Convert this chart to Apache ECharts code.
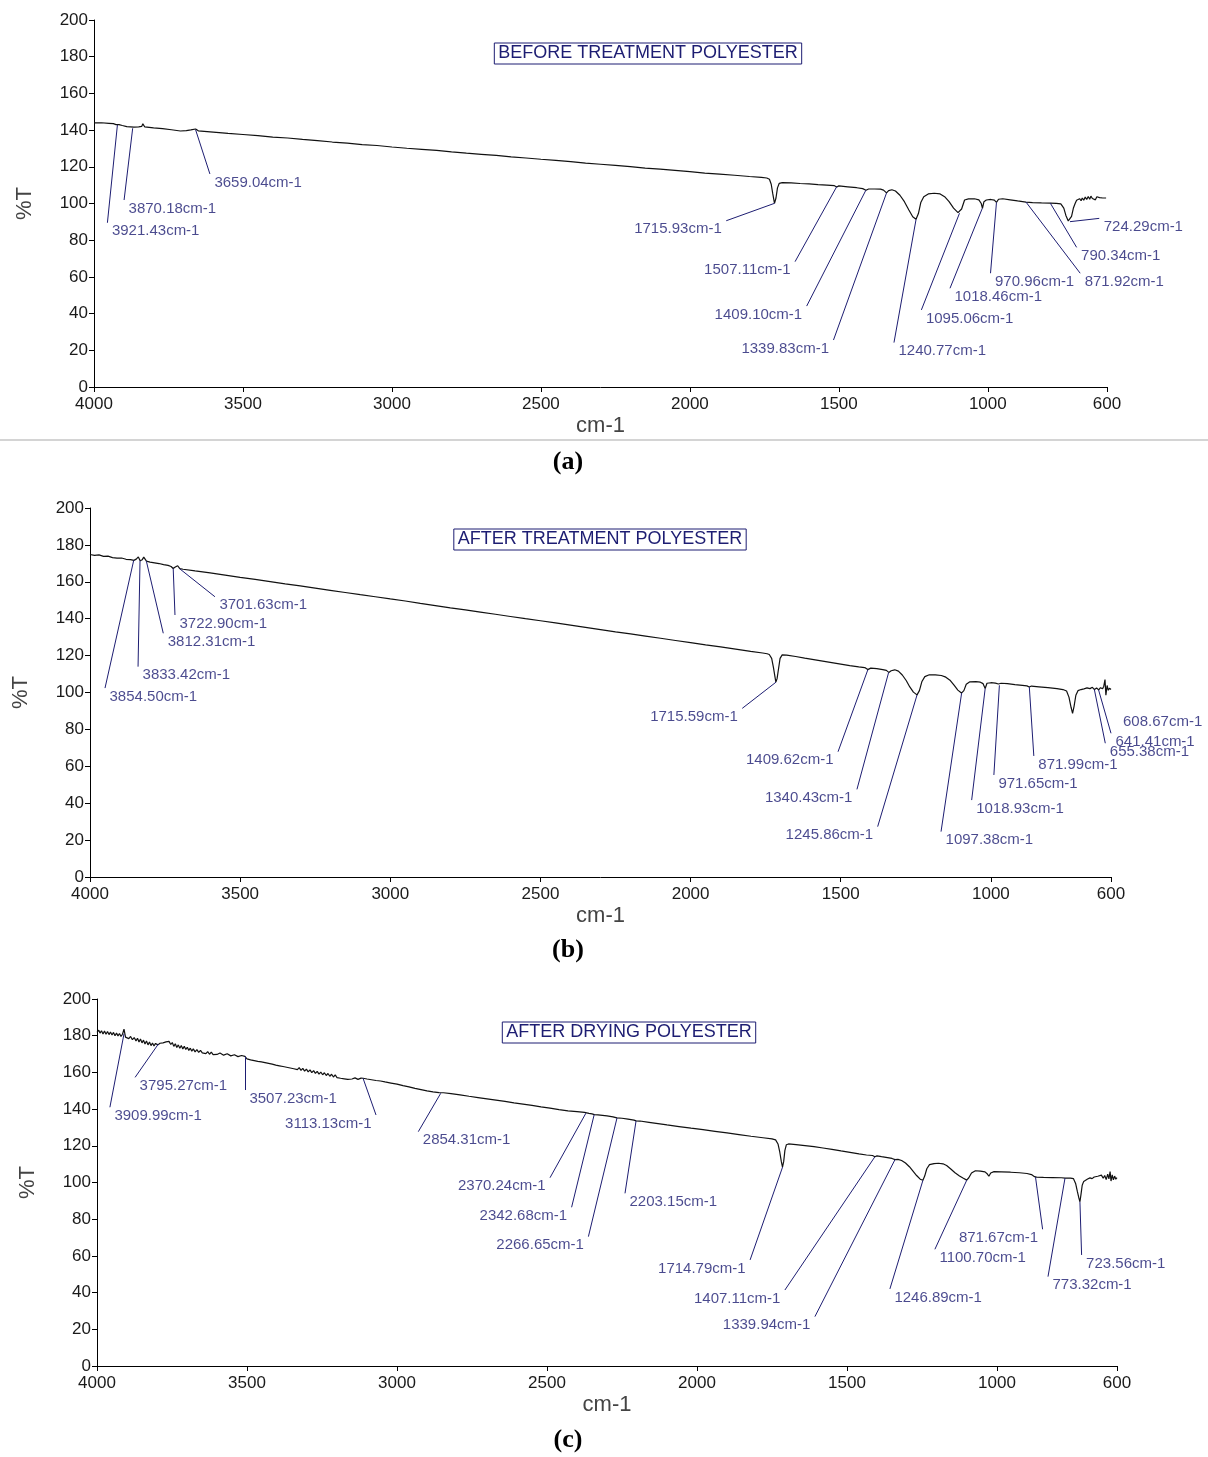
<!DOCTYPE html>
<html>
<head>
<meta charset="utf-8">
<script src="https://cdn.jsdelivr.net/npm/echarts@6/dist/echarts.min.js"></script>
<style>html,body{margin:0;padding:0;background:#fff}#c{width:1208px;height:1457px}</style>
</head>
<body>
<div id="c"></div>
<script>
// ---------- data ----------
const xTicks = [4000, 3500, 3000, 2500, 2000, 1500, 1000, 600];
const panelTitles = ['BEFORE TREATMENT POLYESTER', 'AFTER TREATMENT POLYESTER', 'AFTER DRYING POLYESTER'];
const captions = ['(a)', '(b)', '(c)'];

// spectra: [wavenumber cm-1, %T]
const spectrumA = [[4000,143.9],[3975,144.0],[3950,143.7],[3935,143.5],[3926,143.0],[3921,142.0],[3916,143.0],[3905,142.5],[3890,141.9],[3878,141.8],[3872,140.8],[3866,141.6],[3850,141.8],[3840,142.0],[3836,143.4],[3830,141.8],[3800,141.2],[3770,140.8],[3740,140.2],[3710,139.5],[3690,139.7],[3675,140.1],[3659,140.6],[3650,139.6],[3600,138.9],[3550,138.2],[3500,137.6],[3450,137.0],[3400,136.2],[3350,135.7],[3300,134.9],[3250,134.3],[3200,133.5],[3150,132.9],[3100,132.1],[3050,131.6],[3000,130.8],[2950,130.1],[2900,129.5],[2850,128.9],[2800,128.1],[2750,127.4],[2700,126.8],[2650,126.2],[2600,125.4],[2550,124.8],[2500,124.1],[2450,123.5],[2400,122.8],[2350,122.0],[2300,121.4],[2250,120.8],[2200,120.1],[2150,119.3],[2100,118.7],[2050,118.1],[2000,117.4],[1950,116.6],[1900,116.0],[1850,115.4],[1800,114.7],[1760,114.2],[1742,113.9],[1733,113.2],[1727,110.5],[1722,105.5],[1716,100.1],[1711,103.0],[1706,108.5],[1700,111.0],[1690,111.4],[1660,111.2],[1630,110.9],[1600,110.7],[1570,110.3],[1540,110.0],[1515,109.7],[1507,109.0],[1500,109.6],[1470,109.1],[1440,108.6],[1420,108.1],[1409,107.2],[1400,107.9],[1380,107.9],[1360,107.8],[1350,107.3],[1340,105.8],[1333,107.0],[1322,107.5],[1310,106.8],[1295,104.5],[1280,101.0],[1265,96.5],[1252,92.8],[1241,91.4],[1233,94.5],[1225,100.5],[1215,103.7],[1200,105.2],[1180,105.6],[1160,105.2],[1145,103.7],[1130,101.0],[1115,97.5],[1100,95.0],[1095,94.7],[1088,97.0],[1078,101.9],[1065,102.5],[1045,102.6],[1030,102.0],[1022,100.0],[1018,97.4],[1013,101.0],[1005,101.9],[990,102.2],[978,101.8],[971,100.6],[964,102.3],[950,102.6],[925,102.0],[900,101.4],[872,100.8],[850,100.5],[820,100.3],[790,100.2],[770,100.1],[755,99.8],[745,97.5],[738,93.5],[730,90.5],[724,90.1],[719,93.0],[713,97.4],[707,100.0],[702,101.8],[697,100.8],[692,102.6],[687,101.5],[683,103.0],[678,101.8],[673,103.5],[668,102.2],[663,103.8],[658,102.3],[654,104.0],[649,102.7],[644,103.2],[639,102.0],[634,103.7],[630,102.8],[625,103.2],[620,102.5],[614,103.0],[608,102.6],[603,103.0]];

const spectrumB = [[4000,174.8],[3985,174.3],[3970,174.6],[3955,173.8],[3940,173.9],[3925,173.1],[3910,172.8],[3895,172.9],[3880,172.2],[3865,172.0],[3854,171.6],[3846,172.3],[3839,173.5],[3833,171.4],[3826,172.0],[3821,173.4],[3812,171.2],[3800,170.7],[3785,170.3],[3770,169.9],[3755,169.3],[3740,168.9],[3730,168.3],[3723,167.2],[3716,168.0],[3708,168.7],[3701,167.1],[3690,166.8],[3650,165.9],[3600,164.8],[3550,163.6],[3500,162.4],[3450,161.3],[3400,160.1],[3350,158.9],[3300,157.8],[3250,156.6],[3200,155.4],[3150,154.2],[3100,153.0],[3050,151.9],[3000,150.7],[2950,149.6],[2900,148.3],[2850,147.1],[2800,145.9],[2750,144.8],[2700,143.6],[2650,142.4],[2600,141.2],[2550,140.0],[2500,138.9],[2450,137.7],[2400,136.5],[2350,135.3],[2300,134.1],[2250,132.9],[2200,131.8],[2150,130.6],[2100,129.4],[2050,128.2],[2000,127.0],[1950,125.8],[1900,124.7],[1850,123.5],[1800,122.3],[1760,121.4],[1745,121.0],[1738,120.6],[1730,118.5],[1724,113.5],[1719,108.5],[1716,105.6],[1712,107.5],[1707,113.0],[1702,118.5],[1695,120.4],[1680,120.3],[1650,119.5],[1620,118.6],[1590,117.8],[1560,117.0],[1530,116.2],[1500,115.4],[1470,114.6],[1440,113.9],[1420,113.5],[1410,112.4],[1400,113.2],[1380,112.9],[1360,112.4],[1348,112.0],[1340,110.9],[1332,111.8],[1320,112.3],[1308,111.6],[1295,109.5],[1282,106.5],[1270,103.0],[1258,100.2],[1246,98.7],[1238,101.0],[1230,105.8],[1220,108.6],[1205,109.6],[1185,109.6],[1165,109.2],[1150,108.3],[1135,106.5],[1122,103.8],[1110,101.3],[1098,99.7],[1090,101.0],[1082,104.5],[1070,105.8],[1050,105.9],[1035,105.6],[1026,104.8],[1019,102.2],[1013,105.0],[1000,105.3],[985,105.1],[975,104.6],[971,103.9],[966,105.0],[945,104.8],[920,104.3],[895,103.9],[880,103.6],[872,103.0],[865,103.5],[840,103.1],[810,102.6],[780,102.1],[760,101.6],[748,100.8],[740,97.5],[733,92.0],[728,88.7],[723,92.5],[717,98.5],[710,101.0],[700,101.6],[690,102.0],[680,102.5],[670,102.1],[662,102.8],[655,101.6],[648,102.4],[641,101.4],[635,102.6],[628,102.0],[624,103.4],[620,107.0],[617,98.5],[613,103.8],[609,101.2],[605,102.3],[600,101.6]];

const spectrumC = [[4000,181.8],[3994,183.0],[3990,181.4],[3985,182.7],[3980,180.9],[3975,182.5],[3970,180.8],[3965,182.3],[3960,180.6],[3955,182.0],[3950,180.4],[3945,181.8],[3940,180.0],[3935,181.4],[3930,179.9],[3925,181.2],[3920,179.6],[3915,180.8],[3910,183.6],[3905,179.2],[3900,180.2],[3894,178.4],[3888,179.6],[3882,177.8],[3876,179.0],[3870,177.2],[3865,178.6],[3860,176.6],[3855,178.2],[3850,176.1],[3845,177.6],[3840,175.5],[3835,177.1],[3830,175.0],[3825,176.6],[3820,174.6],[3815,176.0],[3810,174.4],[3805,175.8],[3797,175.0],[3790,175.9],[3780,176.1],[3770,176.6],[3760,176.9],[3754,175.2],[3749,176.3],[3744,174.2],[3739,175.6],[3734,173.6],[3729,175.0],[3724,173.2],[3719,174.6],[3714,172.8],[3709,174.2],[3704,172.5],[3699,173.7],[3694,172.0],[3689,173.2],[3684,171.6],[3679,172.8],[3673,171.2],[3667,172.4],[3661,170.9],[3655,172.0],[3649,170.6],[3643,171.6],[3637,170.2],[3631,171.3],[3625,169.9],[3619,171.0],[3613,169.7],[3607,170.6],[3600,169.8],[3590,170.6],[3578,169.4],[3566,170.2],[3554,169.0],[3542,169.6],[3530,168.6],[3518,169.2],[3507,168.7],[3500,167.4],[3494,168.2],[3488,166.8],[3482,167.8],[3476,166.4],[3470,167.4],[3464,166.0],[3458,167.0],[3452,165.7],[3446,166.6],[3440,165.3],[3434,166.2],[3428,164.9],[3422,165.8],[3416,164.5],[3410,165.4],[3404,164.0],[3398,165.0],[3392,163.6],[3386,164.6],[3380,163.2],[3374,164.2],[3368,162.8],[3362,163.8],[3356,162.4],[3350,163.4],[3344,162.0],[3338,163.0],[3332,161.5],[3326,162.6],[3320,161.1],[3314,162.2],[3308,160.7],[3302,161.8],[3296,160.3],[3290,161.4],[3284,159.9],[3278,161.0],[3272,159.5],[3266,160.6],[3260,159.1],[3254,160.2],[3248,158.7],[3242,159.8],[3236,158.3],[3230,159.4],[3224,157.9],[3218,159.0],[3212,157.5],[3206,158.6],[3200,157.2],[3194,158.2],[3188,156.8],[3182,157.8],[3176,156.5],[3170,157.4],[3164,156.2],[3158,157.1],[3150,156.4],[3140,157.0],[3130,156.2],[3120,156.9],[3113,156.8],[3100,156.4],[3085,156.0],[3070,155.6],[3055,155.3],[3040,154.8],[3020,154.2],[3000,153.6],[2980,152.8],[2960,152.1],[2940,151.3],[2920,150.6],[2900,149.9],[2880,149.4],[2860,149.0],[2854,148.6],[2845,148.9],[2820,148.4],[2790,147.8],[2760,147.0],[2730,146.3],[2700,145.6],[2670,144.9],[2640,144.2],[2610,143.4],[2580,142.7],[2550,142.0],[2520,141.2],[2490,140.5],[2460,139.7],[2430,139.0],[2400,138.6],[2375,138.2],[2370,137.8],[2360,137.7],[2350,137.4],[2342,137.0],[2330,136.9],[2300,136.3],[2280,135.8],[2267,135.2],[2250,135.0],[2230,134.5],[2210,134.0],[2203,133.6],[2190,133.5],[2160,132.8],[2130,132.1],[2100,131.4],[2060,130.5],[2020,129.6],[1980,128.8],[1940,127.9],[1900,127.0],[1860,126.1],[1820,125.2],[1780,124.4],[1750,123.8],[1738,123.2],[1730,121.0],[1724,116.5],[1719,111.5],[1715,108.4],[1711,111.5],[1707,117.5],[1702,120.6],[1695,121.0],[1670,120.6],[1640,120.1],[1610,119.5],[1580,118.8],[1550,118.1],[1520,117.2],[1490,116.4],[1460,115.6],[1435,115.0],[1415,114.7],[1407,114.0],[1400,114.5],[1385,114.1],[1365,113.6],[1350,113.1],[1340,112.5],[1330,112.6],[1318,112.0],[1305,110.6],[1292,108.6],[1280,106.2],[1268,103.8],[1256,101.8],[1247,101.2],[1241,103.5],[1234,107.5],[1225,109.7],[1210,110.3],[1195,110.5],[1180,110.2],[1168,109.3],[1155,107.5],[1140,105.3],[1125,103.6],[1112,102.3],[1101,101.3],[1094,102.6],[1085,105.2],[1072,106.4],[1055,106.2],[1040,105.8],[1032,104.6],[1027,103.4],[1021,105.2],[1010,105.9],[985,105.8],[955,105.6],[925,105.3],[900,104.9],[885,104.3],[875,103.2],[868,102.9],[845,102.8],[815,102.7],[785,102.6],[773,102.4],[755,102.4],[745,102.1],[738,99.5],[732,95.0],[727,91.5],[723.5,89.5],[720,93.5],[716,98.5],[711,100.6],[705,101.4],[698,101.9],[690,102.5],[683,102.1],[676,103.0],[670,102.4],[664,103.4],[658,102.7],[652,104.0],[646,102.3],[641,103.8],[636,101.6],[631,104.6],[627,102.0],[623,105.9],[620,100.8],[616,104.2],[612,101.4],[608,103.5],[604,101.8],[600,102.6]];

// peak annotations: [peak cm-1, %T at peak, leader end cm-1, leader end %T]
const peaksA = [[3921.43,142.8,3955,89.5],[3870.18,141.0,3899,101.9],[3659.04,140.2,3611,116.1],[1715.93,100.1,1878,90.6],[1507.11,109.2,1647,68.3],[1409.10,107.3,1608,44.1],[1339.83,105.8,1518,25.6],[1240.77,91.4,1315,24.2],[1095.06,94.7,1223,42.0],[1018.46,97.4,1127,53.8],[970.96,100.6,991,62.0],[871.92,100.8,690,62.0],[790.34,100.2,702,76.1],[724.29,90.1,626,91.9]];
const peaksB = [[3854.50,171.6,3950,102.4],[3833.42,171.4,3840,114.0],[3812.31,171.2,3756,132.1],[3722.90,167.2,3717,142.0],[3701.63,167.1,3584,151.9],[1715.59,105.6,1828,91.4],[1409.62,112.4,1509,67.9],[1340.43,110.9,1446,47.5],[1245.86,98.7,1377,27.3],[1097.38,99.7,1166,24.6],[1018.93,102.2,1064,41.7],[971.65,103.9,990,55.3],[871.99,103.0,857,65.6],[655.38,101.6,619,72.5],[641.41,101.4,600,77.9],[608.67,101.2,575,88.7]];
const peaksC = [[3909.99,181.0,3957,141.0],[3795.27,175.5,3873,157.3],[3507.23,168.7,3507,150.4],[3113.13,156.8,3070,136.8],[2854.31,148.6,2929,127.7],[2370.24,137.8,2490,102.6],[2342.68,137.0,2418,86.5],[2266.65,135.2,2362,70.5],[2203.15,133.6,2240,94.1],[1714.79,108.4,1823,57.8],[1407.11,114.0,1707,41.4],[1339.94,112.5,1607,26.9],[1246.89,101.2,1357,42.0],[1100.70,101.3,1207,63.6],[871.67,103.0,848,74.5],[773.32,102.4,830,48.7],[723.56,89.5,718,60.5]];

// which side of the leader end the label text sits on (layout)
const sideA = ['L','L','L','R','R','R','R','L','L','L','L','L','L','L'];
const sideB = ['L','L','L','L','L','R','R','R','R','L','L','L','L','L','L','L'];
const sideC = ['L','L','L','R','L','R','R','R','L','R','R','R','L','L','R','L','L'];

// ---------- layout / style ----------
const NAVY = '#1d1d72';
const TICK_FONT = '"Liberation Sans Narrow","Liberation Sans",Arial,sans-serif';
const grids = [
  {left: 94, top: 20, width: 1013, height: 367},
  {left: 90, top: 508, width: 1021, height: 369},
  {left: 97, top: 999, width: 1020, height: 367}
];
const spectra = [spectrumA, spectrumB, spectrumC];
const peaks = [peaksA, peaksB, peaksC];
const sides = [sideA, sideB, sideC];
const titleCenters = [[648, 53.5], [600, 539.5], [629, 1032.5]];
const captionY = [462, 950, 1440];

const xAxes = [], yAxes = [], series = [];
grids.forEach((g, i) => {
  xAxes.push({
    gridIndex: i, type: 'value', min: 600, max: 4000, inverse: true,
    axisLine: {show: true, lineStyle: {color: '#000', width: 1}},
    axisTick: {show: true, length: 5, customValues: xTicks, lineStyle: {color: '#000'}},
    axisLabel: {customValues: xTicks, formatter: v => String(v), fontSize: 17, fontFamily: TICK_FONT, color: '#1a1a1a', margin: 9},
    splitLine: {show: false},
    name: 'cm-1', nameLocation: 'middle', nameGap: 28,
    nameTextStyle: {fontSize: 22, color: '#444', fontFamily: '"Liberation Sans",Arial,sans-serif'}
  });
  yAxes.push({
    gridIndex: i, type: 'value', min: 0, max: 200, interval: 20,
    axisLine: {show: true, lineStyle: {color: '#000', width: 1}},
    axisTick: {show: true, length: 5, lineStyle: {color: '#000'}},
    axisLabel: {fontSize: 17, fontFamily: TICK_FONT, color: '#1a1a1a', margin: 6},
    splitLine: {show: false},
    name: '%T', nameLocation: 'middle', nameGap: 58, nameRotate: 90,
    nameTextStyle: {fontSize: 22, color: '#444', fontFamily: '"Liberation Sans",Arial,sans-serif'}
  });
  series.push({
    type: 'line', xAxisIndex: i, yAxisIndex: i, data: spectra[i],
    showSymbol: false, symbol: 'none', silent: true, animation: false,
    lineStyle: {color: '#111', width: 1.2}
  });
  series.push({
    type: 'scatter', xAxisIndex: i, yAxisIndex: i, clip: false, silent: true, animation: false,
    symbolSize: 1, itemStyle: {color: 'rgba(0,0,0,0)'},
    data: peaks[i].map((p, k) => {
      const left = sides[i][k] === 'L';
      return {
        value: [p[2], p[3]],
        label: {
          show: true,
          formatter: p[0].toFixed(2) + 'cm-1',
          position: left ? [5, 9] : [-4, 9],
          align: left ? 'left' : 'right',
          verticalAlign: 'middle',
          color: NAVY, fontSize: 15,
          fontFamily: '"Liberation Sans",Arial,sans-serif'
        }
      };
    }),
    markLine: {
      silent: true, animation: false, symbol: ['none', 'none'],
      lineStyle: {color: NAVY, width: 1, type: 'solid'},
      label: {show: false}, emphasis: {disabled: true},
      data: peaks[i].map(p => [{coord: [p[0], p[1]]}, {coord: [p[2], p[3]]}])
    }
  });
});

const graphic = [
  {type: 'line', shape: {x1: 0, y1: 440, x2: 1208, y2: 440}, style: {stroke: '#d4d4d4', lineWidth: 2}}
];
panelTitles.forEach((t, i) => {
  graphic.push({
    type: 'text', x: titleCenters[i][0], y: titleCenters[i][1],
    style: {
      text: t, fill: NAVY, font: '18px "Liberation Sans",Arial,sans-serif',
      align: 'center', verticalAlign: 'middle',
      borderColor: NAVY, borderWidth: 1, padding: [2, 4, 1, 4]
    }
  });
});
captions.forEach((t, i) => {
  graphic.push({
    type: 'text', x: 568, y: captionY[i],
    style: {text: t, fill: '#000', font: 'bold 26px "Liberation Serif","Times New Roman",serif', align: 'center', verticalAlign: 'middle'}
  });
});

const chart = echarts.init(document.getElementById('c'), null, {renderer: 'canvas'});
chart.setOption({
  animation: false,
  backgroundColor: '#fff',
  grid: grids,
  xAxis: xAxes,
  yAxis: yAxes,
  series: series,
  graphic: graphic
});
</script>
</body>
</html>
